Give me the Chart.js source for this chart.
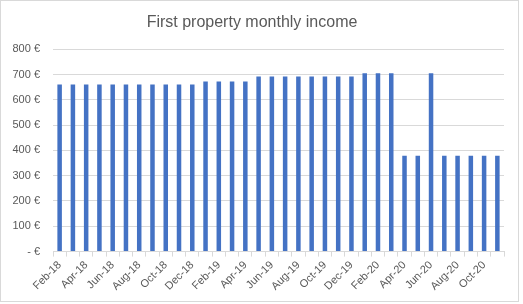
<!DOCTYPE html>
<html>
<head>
<meta charset="utf-8">
<script src="https://cdn.jsdelivr.net/npm/chart.js@4"></script>
<style>
  body { margin: 0; background: #fff; }
  #wrap { position: relative; width: 523px; height: 304px; }
  #frame { position: absolute; left: 0; top: 0; width: 517px; height: 300px; border: 1px solid #d9d9d9; pointer-events: none; }
  canvas { position: absolute; left: 0; top: 0; }
</style>
</head>
<body>
<div id="wrap">
  <canvas id="incomeChart" width="523" height="304"></canvas>
  <div id="frame"></div>
</div>
<script>
// ---- Data ----
const months = [
  'Feb-18', 'Mar-18', 'Apr-18', 'May-18', 'Jun-18', 'Jul-18', 'Aug-18', 'Sep-18', 'Oct-18', 'Nov-18', 'Dec-18',
  'Jan-19', 'Feb-19', 'Mar-19', 'Apr-19', 'May-19', 'Jun-19', 'Jul-19', 'Aug-19', 'Sep-19', 'Oct-19', 'Nov-19', 'Dec-19',
  'Jan-20', 'Feb-20', 'Mar-20', 'Apr-20', 'May-20', 'Jun-20', 'Jul-20', 'Aug-20', 'Sep-20', 'Oct-20', 'Nov-20',
];
const income = [
  660, 660, 660, 660, 660, 660, 660, 660, 660, 660, 660,
  672, 672, 672, 672, 692, 692, 692, 692, 692, 692, 692, 692,
  705, 705, 705, 379, 379, 705, 379, 379, 379, 379, 379,
];
const yTicks = [0, 100, 200, 300, 400, 500, 600, 700, 800];

const textColor = '#595959';
const gridColor = '#d9d9d9';
const fontFamily = "'Liberation Sans', Arial, sans-serif";

new Chart(document.getElementById('incomeChart').getContext('2d'), {
  type: 'bar',
  data: {
    labels: months,
    datasets: [
      {
        label: 'Income',
        data: income,
        backgroundColor: '#4472C4',
        categoryPercentage: 0.34,
        barPercentage: 1,
      },
    ],
  },
  options: {
    responsive: false,
    animation: false,
    layout: { padding: { left: 0, right: 19, top: 7, bottom: 9 } },
    plugins: {
      legend: { display: false },
      tooltip: { enabled: false },
      title: {
        display: true,
        text: 'First property monthly income',
        color: textColor,
        font: { family: fontFamily, size: 16, weight: 'normal' },
        padding: { top: 6, bottom: 17 },
      },
    },
    scales: {
      x: {
        offset: true,
        grid: {
          offset: true,
          drawOnChartArea: false,
          drawTicks: true,
          tickLength: 5,
          color: gridColor,
        },
        border: { color: gridColor },
        ticks: {
          autoSkip: false,
          maxRotation: 45,
          minRotation: 45,
          padding: 2,
          color: textColor,
          font: { family: fontFamily, size: 11 },
          callback: (val, i) => (i % 2 === 0 ? months[i] : ''),
        },
      },
      y: {
        min: 0,
        max: 800,
        afterBuildTicks: (scale) => {
          scale.ticks = yTicks.map((v) => ({ value: v }));
        },
        afterFit: (scale) => {
          scale.width = 53;
        },
        grid: { color: gridColor, drawTicks: false },
        border: { display: false },
        ticks: {
          padding: 13,
          color: textColor,
          font: { family: fontFamily, size: 11 },
          callback: (v) => (v === 0 ? '- €' : v + ' €'),
        },
      },
    },
  },
});
</script>
</body>
</html>
